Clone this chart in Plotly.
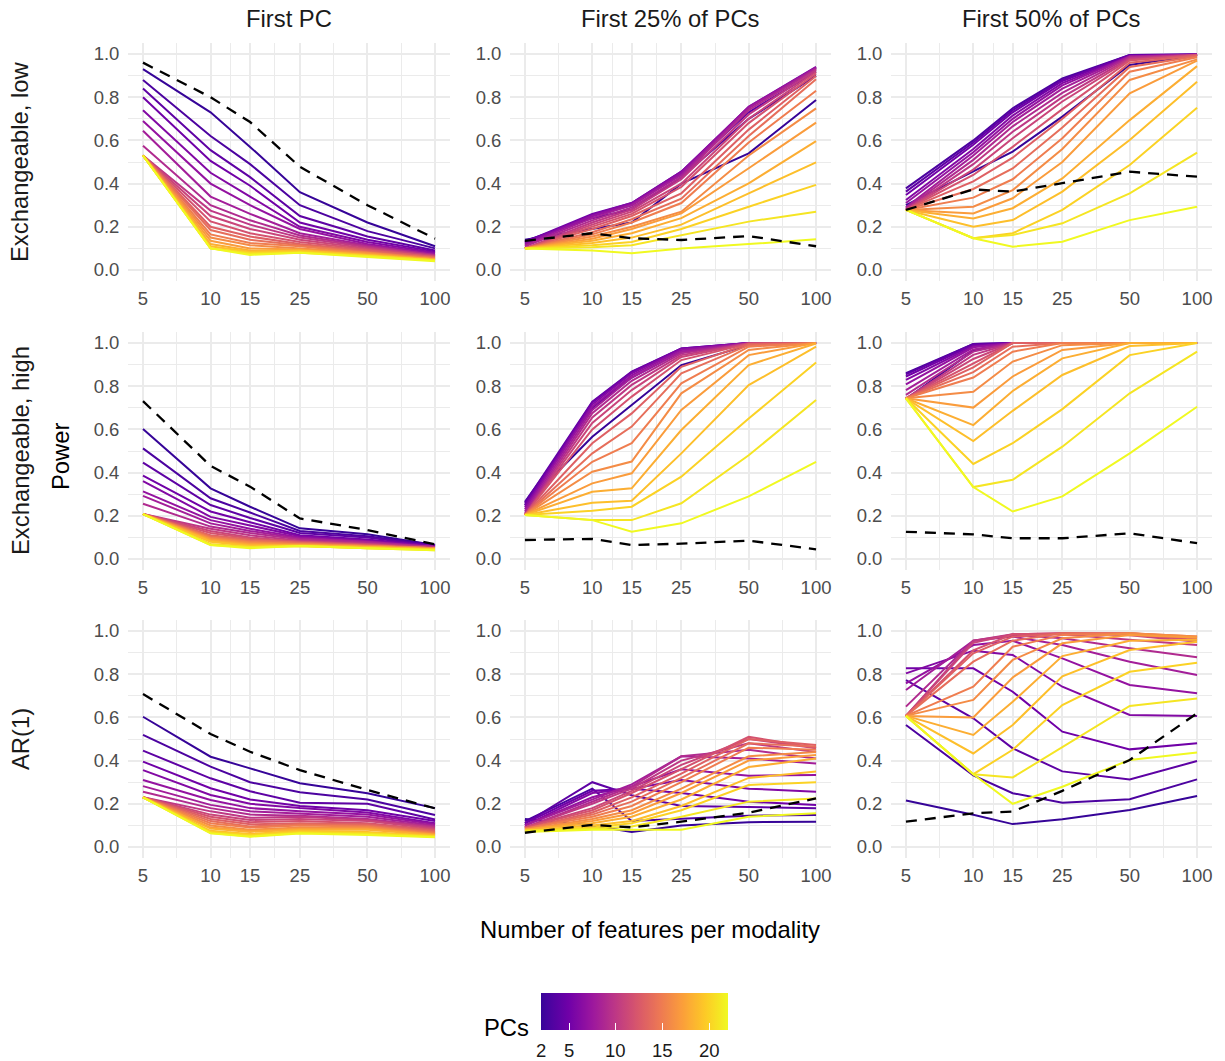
import math
import plotly.graph_objects as go
from plotly.colors import sample_colorscale

# ---------------------------------------------------------------------------
# Data: power by number of features per modality, for PCs = 2..22.
# Each panel table holds one list per feature count (5, 10, 15, 25, 50, 100),
# each list giving the power for PCs 2, 3, ..., 22 in order.
# ---------------------------------------------------------------------------
features = [5, 10, 15, 25, 50, 100]
feature_labels = ["5", "10", "15", "25", "50", "100"]
minor_features = [7.071, 12.247, 19.365, 35.355, 70.711]
pcs = list(range(2, 23))

row_labels = ["Exchangeable, low", "Exchangeable, high", "AR(1)"]
col_labels = ["First PC", "First 25% of PCs", "First 50% of PCs"]

y_ticks = [0.0, 0.2, 0.4, 0.6, 0.8, 1.0]
y_tick_labels = ["0.0", "0.2", "0.4", "0.6", "0.8", "1.0"]
y_minor = [0.1, 0.3, 0.5, 0.7, 0.9]
cbar_ticks = [2, 5, 10, 15, 20]

exch_low_first = [
    [.93, .88, .84, .80, .74, .69, .645, .575, .53, .53, .53, .53, .53, .53, .53, .53, .53, .53, .53, .53, .53],
    [.73, .62, .555, .505, .45, .40, .34, .30, .275, .25, .225, .20, .185, .165, .15, .135, .12, .11, .10, .10, .10],
    [.57, .49, .43, .39, .34, .30, .26, .23, .21, .19, .17, .155, .14, .125, .115, .10, .09, .085, .08, .075, .07],
    [.36, .30, .25, .22, .20, .19, .17, .16, .15, .14, .13, .12, .115, .11, .10, .095, .09, .09, .085, .08, .08],
    [.22, .18, .155, .14, .13, .12, .115, .11, .105, .10, .095, .09, .085, .08, .08, .075, .07, .07, .065, .065, .06],
    [.11, .10, .09, .085, .08, .075, .07, .07, .065, .065, .06, .06, .055, .055, .05, .05, .05, .045, .045, .045, .04],
]
exch_low_q25 = [
    [.14, .135, .13, .13, .125, .12, .115, .11, .10, .10, .10, .10, .10, .10, .10, .10, .10, .10, .10, .10, .10],
    [.19, .24, .25, .26, .255, .25, .24, .23, .22, .21, .20, .19, .175, .165, .155, .145, .135, .125, .115, .105, .09],
    [.22, .28, .30, .31, .31, .305, .30, .29, .28, .27, .26, .25, .235, .22, .20, .19, .17, .15, .13, .115, .077],
    [.40, .43, .445, .455, .455, .45, .44, .43, .42, .40, .385, .355, .33, .31, .27, .262, .24, .21, .19, .16, .10],
    [.54, .70, .73, .75, .756, .755, .75, .74, .72, .70, .68, .65, .62, .59, .53, .471, .401, .355, .293, .224, .12],
    [.787, .90, .92, .935, .94, .938, .935, .93, .926, .918, .91, .898, .883, .83, .748, .682, .597, .498, .394, .27, .142],
]
exch_low_q50 = [
    [.30, .378, .363, .347, .324, .31, .29, .285, .278, .278, .278, .278, .278, .278, .278, .278, .278, .278, .278, .278, .278],
    [.455, .60, .59, .58, .56, .545, .53, .51, .49, .465, .44, .41, .375, .335, .293, .262, .239, .20, .147, .147, .147],
    [.548, .749, .74, .73, .715, .70, .685, .665, .64, .61, .57, .52, .47, .42, .37, .332, .286, .231, .17, .162, .108],
    [.71, .887, .88, .875, .865, .855, .84, .82, .80, .78, .745, .70, .66, .61, .56, .50, .424, .363, .278, .216, .131],
    [.949, .995, .995, .993, .99, .99, .988, .985, .98, .975, .97, .96, .94, .918, .88, .818, .694, .602, .486, .355, .231],
    [.995, .998, .998, .998, .998, .997, .997, .996, .996, .995, .995, .993, .99, .985, .975, .969, .944, .872, .751, .543, .293],
]
exch_high_first = [
    [.602, .512, .446, .386, .361, .313, .292, .256, .208, .208, .208, .208, .208, .208, .208, .208, .208, .208, .208, .208, .208],
    [.327, .281, .25, .22, .195, .18, .165, .15, .14, .13, .12, .11, .105, .10, .095, .09, .085, .08, .07, .065, .065],
    [.242, .215, .19, .17, .155, .14, .13, .12, .11, .10, .095, .09, .085, .08, .075, .07, .065, .06, .055, .055, .05],
    [.142, .13, .12, .11, .105, .10, .095, .09, .085, .08, .08, .075, .075, .07, .07, .065, .065, .06, .06, .06, .06],
    [.115, .105, .10, .09, .085, .08, .08, .075, .07, .07, .065, .065, .06, .06, .06, .055, .055, .055, .05, .05, .05],
    [.065, .065, .06, .06, .06, .055, .055, .055, .055, .05, .05, .05, .05, .05, .05, .045, .045, .045, .045, .04, .04],
]
exch_high_q25 = [
    [.25, .265, .26, .25, .24, .23, .22, .21, .204, .204, .204, .204, .204, .204, .204, .204, .204, .204, .204, .204, .204],
    [.566, .70, .728, .725, .715, .705, .69, .675, .655, .63, .60, .536, .489, .45, .404, .35, .311, .26, .223, .18, .18],
    [.713, .84, .867, .865, .86, .85, .84, .825, .806, .782, .752, .674, .613, .536, .451, .397, .327, .27, .242, .18, .126],
    [.898, .96, .975, .975, .972, .968, .96, .952, .944, .935, .921, .89, .86, .813, .767, .69, .597, .489, .381, .258, .165],
    [.99, .998, 1.0, 1.0, 1.0, 1.0, 1.0, .999, .999, .998, .997, .995, .99, .983, .968, .944, .898, .805, .65, .48, .29],
    [1.0, 1.0, 1.0, 1.0, 1.0, 1.0, 1.0, 1.0, 1.0, 1.0, 1.0, 1.0, 1.0, 1.0, 1.0, 1.0, .998, .983, .91, .736, .45],
]
exch_high_q50 = [
    [.74, .86, .855, .845, .829, .808, .782, .76, .744, .744, .744, .744, .744, .744, .744, .744, .744, .744, .744, .744, .744],
    [.964, .995, .995, .99, .985, .98, .97, .96, .945, .926, .905, .887, .865, .84, .774, .701, .62, .546, .44, .333, .333],
    [1.0, 1.0, 1.0, 1.0, 1.0, 1.0, 1.0, 1.0, 1.0, 1.0, 1.0, 1.0, .983, .96, .914, .845, .778, .686, .536, .367, .22],
    [1.0, 1.0, 1.0, 1.0, 1.0, 1.0, 1.0, 1.0, 1.0, 1.0, 1.0, 1.0, 1.0, 1.0, .99, .968, .929, .852, .694, .52, .29],
    [1.0, 1.0, 1.0, 1.0, 1.0, 1.0, 1.0, 1.0, 1.0, 1.0, 1.0, 1.0, 1.0, 1.0, 1.0, 1.0, 1.0, .986, .944, .767, .489],
    [1.0, 1.0, 1.0, 1.0, 1.0, 1.0, 1.0, 1.0, 1.0, 1.0, 1.0, 1.0, 1.0, 1.0, 1.0, 1.0, 1.0, 1.0, 1.0, .96, .705],
]
ar1_first = [
    [.603, .519, .446, .395, .356, .31, .282, .256, .23, .23, .23, .23, .23, .23, .23, .23, .23, .23, .23, .23, .23],
    [.418, .372, .318, .272, .241, .218, .195, .18, .165, .15, .14, .13, .12, .11, .10, .09, .085, .075, .07, .065, .063],
    [.364, .30, .258, .22, .20, .18, .165, .15, .135, .125, .115, .105, .095, .09, .08, .075, .07, .06, .055, .05, .048],
    [.295, .253, .205, .19, .18, .165, .155, .145, .14, .13, .12, .11, .105, .10, .09, .085, .08, .075, .07, .065, .063],
    [.249, .22, .20, .17, .16, .15, .14, .13, .125, .12, .11, .105, .10, .095, .09, .085, .08, .07, .065, .06, .055],
    [.18, .148, .127, .12, .11, .105, .10, .095, .09, .085, .08, .075, .07, .065, .06, .058, .055, .052, .05, .048, .045],
]
ar1_q25 = [
    [.13, .12, .11, .11, .10, .10, .10, .09, .09, .09, .09, .085, .085, .085, .08, .08, .08, .075, .075, .075, .07],
    [.10, .27, .30, .26, .25, .23, .22, .21, .20, .18, .17, .16, .15, .14, .13, .12, .11, .10, .09, .085, .08],
    [.07, .12, .24, .27, .27, .28, .29, .28, .27, .26, .25, .23, .21, .19, .17, .155, .14, .12, .11, .095, .08],
    [.10, .13, .19, .25, .31, .36, .42, .42, .40, .38, .36, .34, .32, .30, .27, .25, .22, .19, .17, .14, .08],
    [.115, .145, .185, .21, .27, .33, .41, .45, .48, .50, .51, .50, .48, .46, .42, .40, .37, .32, .287, .21, .14],
    [.117, .148, .179, .194, .256, .333, .387, .41, .44, .457, .46, .472, .465, .45, .44, .426, .41, .349, .30, .225, .156],
]
ar1_q50 = [
    [.215, .565, .773, .827, .804, .757, .727, .65, .607, .607, .607, .607, .607, .607, .607, .607, .607, .607, .607, .607, .607],
    [.149, .332, .596, .827, .909, .935, .955, .955, .955, .945, .91, .897, .858, .742, .681, .60, .519, .433, .337, .337, .337],
    [.106, .249, .457, .719, .889, .955, .974, .982, .985, .985, .985, .974, .955, .927, .866, .785, .672, .565, .45, .322, .20],
    [.128, .205, .35, .534, .742, .873, .935, .966, .985, .99, .99, .99, .99, .982, .966, .943, .884, .79, .657, .464, .279],
    [.171, .221, .313, .452, .611, .75, .858, .92, .96, .98, .985, .99, .99, .99, .99, .982, .955, .912, .811, .653, .403],
    [.236, .313, .398, .48, .607, .712, .796, .878, .935, .95, .958, .965, .97, .975, .975, .97, .96, .95, .853, .688, .437],
]

# Comparison method (black dashed line), one value per feature count
exch_low_first_cmp = [.96, .80, .685, .478, .30, .145]
exch_low_q25_cmp = [.135, .17, .147, .139, .157, .11]
exch_low_q50_cmp = [.278, .373, .363, .401, .455, .432]
exch_high_first_cmp = [.731, .431, .335, .188, .134, .068]
exch_high_q25_cmp = [.088, .093, .065, .071, .085, .045]
exch_high_q50_cmp = [.126, .114, .096, .096, .119, .073]
ar1_first_cmp = [.708, .523, .441, .356, .264, .179]
ar1_q25_cmp = [.066, .102, .091, .117, .159, .225]
ar1_q50_cmp = [.117, .156, .164, .26, .403, .619]

panels = [
    [(exch_low_first, exch_low_first_cmp), (exch_low_q25, exch_low_q25_cmp), (exch_low_q50, exch_low_q50_cmp)],
    [(exch_high_first, exch_high_first_cmp), (exch_high_q25, exch_high_q25_cmp), (exch_high_q50, exch_high_q50_cmp)],
    [(ar1_first, ar1_first_cmp), (ar1_q25, ar1_q25_cmp), (ar1_q50, ar1_q50_cmp)],
]

# ---------------------------------------------------------------------------
# Layout geometry (pixels in a 1225 x 1061 canvas)
# ---------------------------------------------------------------------------
W, H = 1225, 1061
col_px = [(128.4, 449.6), (510.4, 830.6), (891.4, 1211.6)]
row_px = [(43.2, 280.8), (332.2, 569.8), (620.2, 857.8)]

FONT = "Liberation Sans, Arial, Helvetica, sans-serif"
GRID = "#EBEBEB"
TICK_COLOR = "#4D4D4D"
TEXT_COLOR = "#1A1A1A"
TITLE_SIZE = 23.8

# Plasma palette, starting slightly in from its darkest end
pc_min, pc_max = 2, 22
plasma_begin = 0.08
n_steps = 64
plasma_scale = [
    [s / (n_steps - 1), col]
    for s, col in enumerate(sample_colorscale(
        "Plasma", [plasma_begin + (1 - plasma_begin) * s / (n_steps - 1) for s in range(n_steps)]))
]
pc_colors = sample_colorscale(plasma_scale, [(p - pc_min) / (pc_max - pc_min) for p in pcs])

fig = go.Figure()
x_lo = math.log10(5) - 0.065
x_hi = math.log10(100) + 0.065

for r in range(3):
    for c in range(3):
        k = r * 3 + c + 1
        xa = "x" if k == 1 else f"x{k}"
        ya = "y" if k == 1 else f"y{k}"
        table, cmp_vals = panels[r][c]
        for i, pc in enumerate(pcs):
            fig.add_trace(go.Scatter(
                x=features,
                y=[col[i] for col in table],
                mode="lines",
                line=dict(color=pc_colors[i], width=2),
                xaxis=xa, yaxis=ya,
                showlegend=False,
                name=f"PCs = {pc}",
            ))
        fig.add_trace(go.Scatter(
            x=features, y=cmp_vals, mode="lines",
            line=dict(color="black", width=2.3, dash="11px,8px"),
            xaxis=xa, yaxis=ya, showlegend=False, name="comparison",
        ))

        x0, x1 = col_px[c]
        y0, y1 = row_px[r]
        fig.layout[f"xaxis{k if k > 1 else ''}"] = dict(
            domain=[x0 / W, x1 / W],
            anchor=ya,
            type="log",
            range=[x_lo, x_hi],
            tickmode="array",
            tickvals=features,
            ticktext=feature_labels,
            showgrid=True, gridcolor=GRID, gridwidth=2,
            minor=dict(tickmode="array", tickvals=minor_features, showgrid=True,
                       gridcolor=GRID, gridwidth=1.1, ticks=""),
            zeroline=False, showline=False, ticks="",
            tickfont=dict(family=FONT, size=18.5, color=TICK_COLOR),
            ticklabelstandoff=5,
        )
        fig.layout[f"yaxis{k if k > 1 else ''}"] = dict(
            domain=[1 - y1 / H, 1 - y0 / H],
            anchor=xa,
            range=[-0.05, 1.05],
            tickmode="array",
            tickvals=y_ticks,
            ticktext=y_tick_labels,
            showgrid=True, gridcolor=GRID, gridwidth=2,
            minor=dict(tickmode="array", tickvals=y_minor, showgrid=True,
                       gridcolor=GRID, gridwidth=1.1, ticks=""),
            zeroline=False, showline=False, ticks="",
            tickfont=dict(family=FONT, size=18.5, color=TICK_COLOR),
            ticklabelstandoff=8,
        )

# Colour bar for the number of PCs (labels placed below as annotations)
cb_left, cb_top, cb_len, cb_thick = 541, 993, 187, 37
fig.add_trace(go.Scatter(
    x=[5, 5], y=[0, 0], mode="markers", xaxis="x", yaxis="y",
    marker=dict(color=[pc_min, pc_max], colorscale=plasma_scale, cmin=pc_min, cmax=pc_max,
                opacity=0, size=1, showscale=True,
                colorbar=dict(
                    orientation="h",
                    x=cb_left / W, xanchor="left",
                    y=1 - cb_top / H, yanchor="top",
                    len=cb_len, lenmode="pixels",
                    thickness=cb_thick, thicknessmode="pixels",
                    outlinewidth=0, xpad=0, ypad=0,
                    tickmode="array", tickvals=cbar_ticks,
                    ticks="inside", ticklen=7, tickcolor="white", tickwidth=1.2,
                    showticklabels=False,
                )),
    showlegend=False, hoverinfo="skip",
))

annotations = []
for t in cbar_ticks:
    px = cb_left + (t - pc_min) / (pc_max - pc_min) * cb_len
    annotations.append(dict(text=str(t), x=px / W, y=1 - 1050 / H,
                            xref="paper", yref="paper", showarrow=False,
                            xanchor="center", yanchor="middle",
                            font=dict(family=FONT, size=18.5, color=TEXT_COLOR)))
for c, label in enumerate(col_labels):
    x0, x1 = col_px[c]
    annotations.append(dict(text=label, x=(x0 + x1) / 2 / W, y=1 - 18 / H,
                            xref="paper", yref="paper", showarrow=False,
                            xanchor="center", yanchor="middle",
                            font=dict(family=FONT, size=TITLE_SIZE, color=TEXT_COLOR)))
for r, label in enumerate(row_labels):
    y0, y1 = row_px[r]
    annotations.append(dict(text=label, x=20 / W, y=1 - (y0 + y1) / 2 / H,
                            xref="paper", yref="paper", showarrow=False, textangle=-90,
                            xanchor="center", yanchor="middle",
                            font=dict(family=FONT, size=TITLE_SIZE, color=TEXT_COLOR)))
annotations.append(dict(text="Power", x=60 / W, y=1 - 456 / H, xref="paper", yref="paper",
                        showarrow=False, textangle=-90, xanchor="center", yanchor="middle",
                        font=dict(family=FONT, size=TITLE_SIZE, color="black")))
annotations.append(dict(text="Number of features per modality", x=650 / W, y=1 - 929 / H,
                        xref="paper", yref="paper", showarrow=False,
                        xanchor="center", yanchor="middle",
                        font=dict(family=FONT, size=23.8, color="black")))
annotations.append(dict(text="PCs", x=506 / W, y=1 - 1027 / H, xref="paper", yref="paper",
                        showarrow=False, xanchor="center", yanchor="middle",
                        font=dict(family=FONT, size=TITLE_SIZE, color="black")))

fig.update_layout(
    width=W, height=H,
    margin=dict(l=0, r=0, t=0, b=0),
    paper_bgcolor="white", plot_bgcolor="white",
    annotations=annotations,
    font=dict(family=FONT),
    showlegend=False,
)

fig.write_html("out.html")
